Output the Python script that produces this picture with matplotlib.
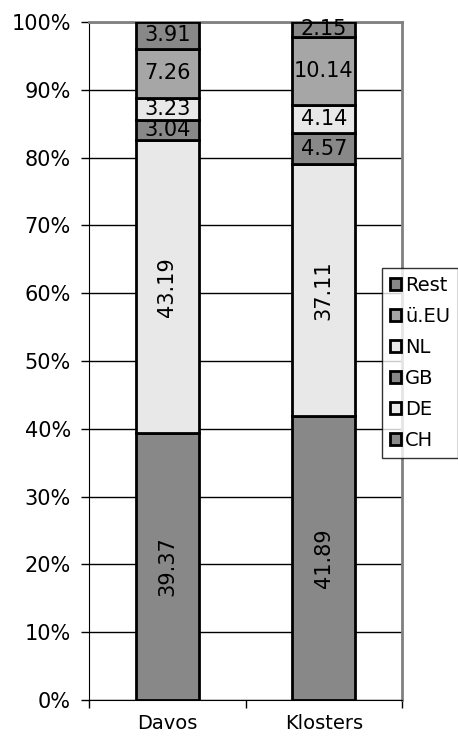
import matplotlib.pyplot as plt
import numpy as np

places = ["Davos", "Klosters"]
series = ["CH", "DE", "GB", "NL", "ü.EU", "Rest"]
ch = [39.37, 41.89]
de = [43.19, 37.11]
gb = [3.04, 4.57]
nl = [3.23, 4.14]
ueu = [7.26, 10.14]
rest = [3.91, 2.15]

values = [ch, de, gb, nl, ueu, rest]
colors = ["#888888", "#e8e8e8", "#888888", "#e8e8e8", "#a6a6a6", "#888888"]
rotate = [True, True, False, False, False, False]

fig = plt.figure(figsize=(4.58, 7.39), dpi=100)
ax = fig.add_axes([89 / 458, 39 / 739, 313 / 458, 678 / 739])

x = np.arange(len(places))
bottom = np.zeros(len(places))
handles = []
for vals, col, rot, name in zip(values, colors, rotate, series):
    vals = np.array(vals)
    b = ax.bar(x, vals, 0.4, bottom=bottom, color=col, edgecolor="black",
               linewidth=2, label=name, zorder=3)
    handles.append(b)
    for xi, v, b0 in zip(x, vals, bottom):
        ax.text(xi, b0 + v / 2, "%.2f" % v, ha="center", va="center",
                fontsize=15, rotation=90 if rot else 0, zorder=4)
    bottom += vals

ax.set_xlim(-0.5, 1.5)
ax.set_ylim(0, 100)
ax.set_yticks(range(0, 101, 10))
ax.set_yticklabels(["%d%%" % v for v in range(0, 101, 10)], fontsize=15)
ax.yaxis.grid(True, color="black", linewidth=1, zorder=0)
ax.set_xticks([-0.5, 0.5, 1.5])
ax.set_xticklabels([])
ax.set_xticks(x, minor=True)
ax.set_xticklabels(places, minor=True, fontsize=14)
ax.tick_params(axis="x", which="minor", length=0, pad=10)
ax.tick_params(axis="x", which="major", length=6, direction="out", width=1)
ax.tick_params(axis="y", length=6, direction="out", width=1, pad=7)
for s in ["top", "right"]:
    ax.spines[s].set_color("#808080")
    ax.spines[s].set_linewidth(2)

leg = fig.legend(handles[::-1], series[::-1], loc="upper left",
                 bbox_to_anchor=(382 / 458, 1 - 268 / 739), fontsize=14,
                 frameon=True, fancybox=False, edgecolor="black",
                 handlelength=0.6, handleheight=0.6, handletextpad=0.2,
                 labelspacing=0.62, borderpad=0.4, borderaxespad=0)
leg.get_frame().set_linewidth(1)
for h in leg.legend_handles:
    h.set_linewidth(2)

fig.savefig("out.png", dpi=100)
